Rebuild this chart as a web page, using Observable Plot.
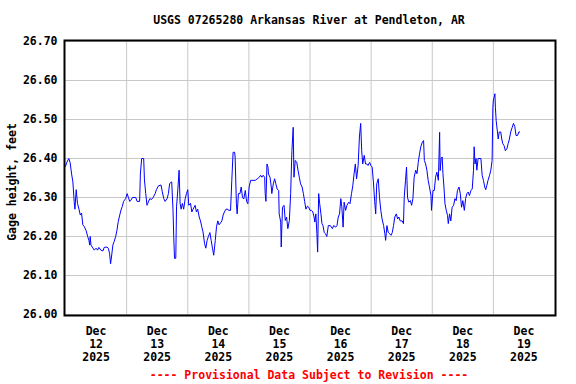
<!DOCTYPE html>
<html>
<head>
<meta charset="utf-8">
<script src="https://cdn.jsdelivr.net/npm/d3@7"></script>
<script src="https://cdn.jsdelivr.net/npm/@observablehq/plot@0.6"></script>
<style>
  html, body { margin: 0; padding: 0; background: #fff; }
  body { position: relative; width: 576px; height: 384px; overflow: hidden;
         font-family: "DejaVu Sans Mono", "Liberation Mono", monospace; font-weight: bold; font-size: 11.5px; color: #000; }
  #title { position: absolute; top: 14px; left: 309px; transform: translateX(-50%); white-space: nowrap; line-height: 13px; }
  #chart { position: absolute; top: 34px; left: 0; }
  #caption { position: absolute; top: 369px; left: 309px; transform: translateX(-50%); white-space: nowrap; line-height: 13px; color: #ff0000; }
</style>
</head>
<body>
<div id="title"></div>
<div id="chart"></div>
<div id="caption"></div>
<script>
const titleText = "USGS 07265280 Arkansas River at Pendleton, AR";
const captionText = "---- Provisional Data Subject to Revision ----";
const yLabel = "Gage height, feet";

// tick labels
const tickMonth = "Dec";
const tickYear = "2025";
const tickDays = [12, 13, 14, 15, 16, 17, 18, 19];
const yTicks = [26.0, 26.1, 26.2, 26.3, 26.4, 26.5, 26.6, 26.7];

// hours since 2025-12-12 00:00
const hours = [
  0.0,0.5,1.3,1.8,2.4,2.9,3.4,3.7,4.2,4.7,5.3,5.8,6.3,6.8,7.4,8.1,8.7,9.2,9.5,9.7,10.0,10.5,11.3,12.0,12.6,13.1,13.9,14.7,15.2,16.3,16.8,17.3,17.7,18.1,18.6,19.1,19.7,20.2,20.7,21.3,21.8,22.3,22.8,23.6,
  24.2,24.7,25.2,25.7,26.3,27.6,28.1,29.1,29.4,29.9,30.7,31.0,31.5,32.0,32.3,33.1,33.8,34.4,35.2,35.7,36.5,37.5,38.0,38.6,39.1,39.9,40.4,40.9,41.7,42.2,42.5,42.8,43.3,43.6,44.1,44.6,45.0,45.4,45.9,46.4,47.0,47.5,
  48.0,48.4,49.1,49.6,50.1,50.9,51.4,51.9,52.5,53.0,53.5,54.0,54.6,55.1,55.6,56.1,56.7,57.2,57.7,58.2,58.8,59.3,59.8,60.3,60.9,61.4,61.9,62.4,63.0,63.75,64.0,64.8,65.3,65.8,66.4,66.6,67.1,67.4,67.9,68.5,69.0,69.5,70.0,70.6,71.1,71.6,
  72.1,72.7,74.5,75.3,76.1,76.6,77.1,77.6,78.2,78.4,78.7,79.1,79.5,79.7,80.3,80.8,81.0,81.6,82.1,82.6,83.1,83.7,83.9,84.5,84.7,85.2,85.8,86.3,86.8,87.3,87.9,88.4,88.9,89.4,89.7,90.2,90.8,91.3,91.8,92.3,92.9,93.4,93.9,94.4,95.0,95.5,
  96.0,96.6,97.1,97.6,97.9,98.3,98.7,99.0,99.4,99.8,100.3,100.7,101.1,101.6,102.1,102.6,103.2,104.0,104.8,105.3,106.1,106.6,107.1,107.6,108.1,108.5,109.0,109.4,110.0,110.5,111.2,111.7,112.3,112.8,113.3,113.8,114.3,114.9,115.4,115.9,116.3,116.7,117.3,117.8,118.3,118.8,119.4,119.9,
  120.4,120.9,121.4,121.8,122.2,122.8,123.3,123.8,124.3,124.9,125.4,125.7,126.2,126.7,127.3,127.8,128.3,128.8,129.3,129.9,130.4,130.9,131.4,132.2,132.7,133.0,133.5,133.9,134.3,134.8,135.4,135.9,136.4,136.9,137.5,138.0,138.5,139.0,139.5,140.1,140.6,140.9,141.4,141.9,142.4,142.9,143.5,143.7,
  144.3,144.8,145.3,145.8,146.4,146.9,147.1,147.5,147.9,148.2,148.6,149.0,149.5,150.0,150.3,150.8,151.3,151.8,152.4,152.9,153.4,153.9,154.5,155.0,155.5,156.0,156.6,157.1,157.6,158.1,158.6,159.2,159.7,160.2,160.45,160.8,161.2,161.5,162.0,163.1,163.6,164.1,164.6,165.0,165.4,165.9,166.5,167.0,167.5,167.8,
  168.0,168.3,168.6,168.8,169.1,169.6,169.9,170.3,170.9,171.3,171.7,172.2,172.7,173.3,173.8,174.3,174.8,175.4,175.9,176.4,176.9,177.5,178.0,178.3
];
const gage = [
  26.38,26.39,26.40,26.39,26.36,26.34,26.29,26.27,26.32,26.285,26.27,26.255,26.26,26.23,26.225,26.215,26.20,26.19,26.178,26.20,26.178,26.173,26.165,26.17,26.165,26.172,26.165,26.163,26.172,26.173,26.17,26.157,26.13,26.15,26.178,26.187,26.20,26.216,26.238,26.255,26.268,26.277,26.29,26.297,
  26.31,26.30,26.29,26.293,26.30,26.30,26.29,26.29,26.36,26.40,26.40,26.345,26.31,26.28,26.285,26.297,26.295,26.30,26.31,26.32,26.33,26.332,26.315,26.297,26.29,26.297,26.31,26.336,26.34,26.27,26.20,26.144,26.144,26.276,26.32,26.37,26.285,26.27,26.285,26.27,26.297,26.31,
  26.32,26.28,26.285,26.263,26.27,26.28,26.263,26.27,26.25,26.24,26.225,26.212,26.182,26.17,26.19,26.20,26.21,26.19,26.17,26.152,26.19,26.225,26.24,26.23,26.235,26.24,26.255,26.263,26.27,26.27,26.267,26.267,26.344,26.416,26.416,26.404,26.284,26.258,26.31,26.31,26.327,26.30,26.296,26.318,26.29,26.284,
  26.327,26.344,26.344,26.348,26.352,26.357,26.352,26.357,26.352,26.31,26.29,26.386,26.378,26.36,26.352,26.327,26.31,26.335,26.348,26.335,26.322,26.318,26.258,26.237,26.173,26.275,26.28,26.241,26.25,26.22,26.241,26.31,26.42,26.48,26.352,26.395,26.39,26.37,26.352,26.335,26.327,26.31,26.29,26.27,26.278,26.275,
  26.267,26.267,26.263,26.25,26.237,26.258,26.207,26.16,26.31,26.284,26.258,26.233,26.228,26.21,26.207,26.20,26.228,26.228,26.22,26.228,26.224,26.228,26.25,26.258,26.297,26.276,26.224,26.288,26.267,26.28,26.288,26.284,26.31,26.33,26.36,26.386,26.348,26.382,26.455,26.49,26.42,26.386,26.408,26.386,26.386,26.382,26.39,26.382,
  26.378,26.34,26.29,26.258,26.335,26.348,26.30,26.267,26.245,26.228,26.207,26.19,26.228,26.211,26.207,26.203,26.21,26.228,26.25,26.258,26.245,26.25,26.24,26.24,26.233,26.30,26.344,26.378,26.30,26.288,26.292,26.28,26.297,26.352,26.37,26.361,26.39,26.412,26.43,26.442,26.446,26.395,26.386,26.37,26.344,26.327,26.305,26.267,
  26.318,26.318,26.352,26.365,26.344,26.467,26.369,26.40,26.404,26.361,26.327,26.284,26.267,26.254,26.233,26.258,26.24,26.275,26.28,26.297,26.292,26.318,26.327,26.31,26.275,26.292,26.267,26.297,26.31,26.314,26.305,26.318,26.322,26.37,26.43,26.386,26.40,26.37,26.40,26.40,26.357,26.344,26.327,26.32,26.33,26.344,26.357,26.37,26.395,26.53,
  26.55,26.557,26.566,26.53,26.497,26.468,26.45,26.468,26.468,26.45,26.438,26.433,26.42,26.425,26.438,26.45,26.468,26.48,26.49,26.482,26.459,26.459,26.468,26.468
];

const t0 = Date.UTC(2025, 11, 12);
const data = hours.map((h, i) => ({t: new Date(t0 + h * 3600e3), v: gage[i]}));
const noons = tickDays.map(d => new Date(Date.UTC(2025, 11, d, 12)));
const midnights = tickDays.slice(1).map(d => new Date(Date.UTC(2025, 11, d)));

document.getElementById("title").textContent = titleText;
document.getElementById("caption").textContent = captionText;

const chart = Plot.plot({
  width: 576,
  height: 332,
  marginTop: 7,
  marginBottom: 52,
  marginLeft: 65,
  marginRight: 22,
  style: {fontFamily: '"DejaVu Sans Mono", monospace', fontSize: "11.5px", fontWeight: "bold", color: "#000", background: "#fff", overflow: "visible"},
  x: {type: "utc", domain: [new Date(t0), new Date(Date.UTC(2025, 11, 20))]},
  y: {domain: [26.0, 26.7]},
  marks: [
    Plot.gridY(yTicks, {stroke: "#c8c8c8", strokeOpacity: 1, strokeWidth: 1}),
    Plot.gridX(midnights, {stroke: "#c8c8c8", strokeOpacity: 1, strokeWidth: 1}),
    Plot.line(data, {x: "t", y: "v", stroke: "#0000ff", strokeWidth: 1}),
    Plot.frame({stroke: "#000", strokeWidth: 2, inset: -1}),
    Plot.axisY(yTicks, {tickSize: 0, tickPadding: 8, tickFormat: d => d.toFixed(2), label: null, fill: "#000"}),
    Plot.axisX(noons, {tickSize: 0, tickPadding: 11, lineHeight: 1.13, label: null, fill: "#000",
      tickFormat: d => `${tickMonth}\n${d.getUTCDate()}\n${tickYear}`}),
    Plot.text([yLabel], {frameAnchor: "left", textAnchor: "middle", dx: -53, dy: 4, rotate: -90, fill: "#000"})
  ]
});
document.getElementById("chart").appendChild(chart);
</script>
</body>
</html>
